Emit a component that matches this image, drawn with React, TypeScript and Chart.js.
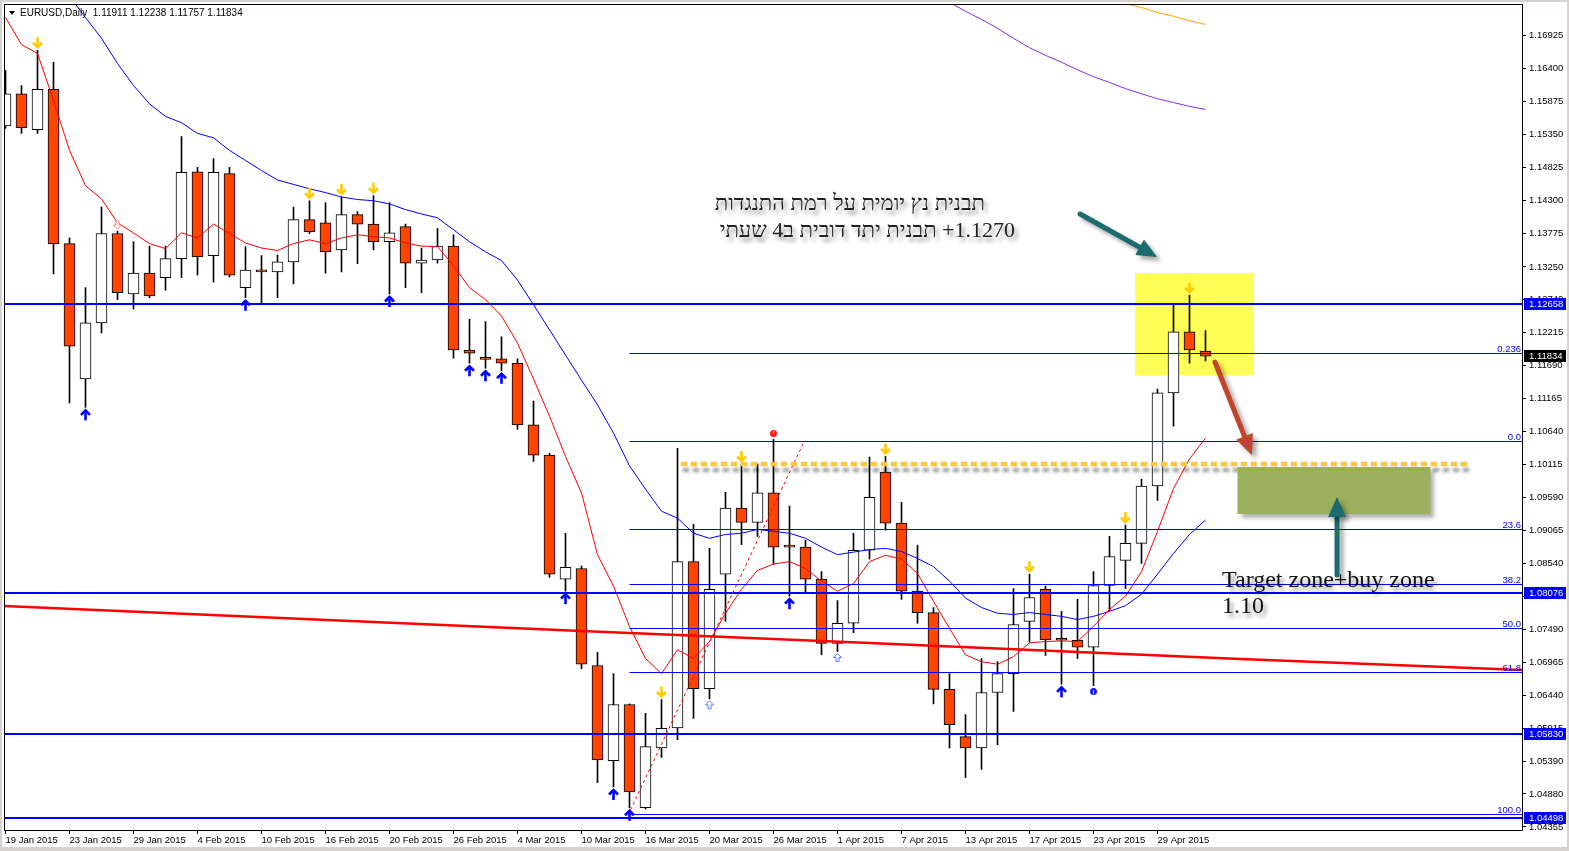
import React, { useEffect, useRef } from 'react';
import { Chart, registerables } from 'chart.js';

Chart.register(...registerables);

const W = 1569;
const H = 851;

const symbolTitle = 'EURUSD,Daily';
const lastQuote = ['1.11911', '1.12238', '1.11757', '1.11834'];

const dateLabels = ['19 Jan 2015', '23 Jan 2015', '29 Jan 2015', '4 Feb 2015', '10 Feb 2015', '16 Feb 2015', '20 Feb 2015', '26 Feb 2015', '4 Mar 2015', '10 Mar 2015', '16 Mar 2015', '20 Mar 2015', '26 Mar 2015', '1 Apr 2015', '7 Apr 2015', '13 Apr 2015', '17 Apr 2015', '23 Apr 2015', '29 Apr 2015'];
const barsPerDateLabel = 4;

const priceTicks = [1.16925, 1.164, 1.15875, 1.1535, 1.14825, 1.143, 1.13775, 1.1325, 1.1274, 1.12215, 1.1169, 1.11165, 1.1064, 1.10115, 1.0959, 1.09065, 1.0854, 1.08015, 1.0749, 1.06965, 1.0644, 1.05915, 1.0539, 1.0488, 1.04355];
const priceMin = 1.04307;
const priceMax = 1.17425;

const opens = [1.1549, 1.1600, 1.1543, 1.1607, 1.1362, 1.1147, 1.1236, 1.1378, 1.1282, 1.1315, 1.1308, 1.1338, 1.1476, 1.1343, 1.1473, 1.1292, 1.1320, 1.1317, 1.1333, 1.1400, 1.1395, 1.1352, 1.1408, 1.1393, 1.1365, 1.1389, 1.1331, 1.1336, 1.1358, 1.1193, 1.1179, 1.1179, 1.1172, 1.1074, 1.1026, 1.0829, 1.0846, 1.0692, 1.0541, 1.0630, 1.0466, 1.0561, 1.0593, 1.0857, 1.0655, 1.0837, 1.0942, 1.0919, 1.0966, 1.0881, 1.0880, 1.0829, 1.0727, 1.0759, 1.0875, 1.0999, 1.0918, 1.0810, 1.0776, 1.0654, 1.0579, 1.0561, 1.0649, 1.0679, 1.0762, 1.0813, 1.0733, 1.0732, 1.0721, 1.0819, 1.0859, 1.0886, 1.0977, 1.1125, 1.1222, 1.11911];
const highs = [1.1637, 1.1613, 1.1669, 1.1650, 1.1371, 1.1292, 1.1420, 1.1382, 1.1365, 1.1358, 1.1358, 1.1532, 1.1483, 1.1497, 1.1483, 1.1357, 1.1343, 1.1344, 1.1420, 1.1430, 1.1427, 1.1436, 1.1413, 1.1438, 1.1427, 1.1393, 1.1355, 1.1386, 1.1376, 1.1242, 1.1238, 1.1214, 1.1179, 1.1112, 1.1029, 1.0902, 1.0850, 1.0713, 1.0679, 1.0631, 1.0616, 1.0638, 1.1037, 1.0916, 1.0878, 1.0967, 1.1012, 1.1012, 1.1051, 1.0945, 1.0891, 1.0841, 1.0795, 1.0902, 1.1023, 1.1024, 1.0951, 1.0883, 1.0784, 1.0679, 1.0614, 1.0703, 1.0698, 1.0814, 1.0837, 1.0818, 1.0778, 1.0797, 1.0841, 1.0897, 1.0915, 1.0988, 1.1131, 1.1266, 1.1280, 1.12238];
const lows = [1.1545, 1.1537, 1.1537, 1.1314, 1.1109, 1.1102, 1.1220, 1.1273, 1.1258, 1.1276, 1.1288, 1.1308, 1.1312, 1.1301, 1.1309, 1.1276, 1.1268, 1.1276, 1.1298, 1.1378, 1.1315, 1.1317, 1.1330, 1.1352, 1.1282, 1.1292, 1.1284, 1.1331, 1.1180, 1.1172, 1.1164, 1.1160, 1.1067, 1.1016, 1.0832, 1.0810, 1.0687, 1.0506, 1.0499, 1.0466, 1.0464, 1.0546, 1.0574, 1.0608, 1.0639, 1.0762, 1.0884, 1.0897, 1.0853, 1.0802, 1.0806, 1.0709, 1.0714, 1.0744, 1.0861, 1.0907, 1.0797, 1.0759, 1.0631, 1.0561, 1.0514, 1.0527, 1.0566, 1.0619, 1.0729, 1.0708, 1.0662, 1.0703, 1.0660, 1.0779, 1.0814, 1.0854, 1.0954, 1.1072, 1.1172, 1.11757];
const closes = [1.1600, 1.1546, 1.1607, 1.1362, 1.1199, 1.1236, 1.1378, 1.1284, 1.1315, 1.1279, 1.1338, 1.1475, 1.1341, 1.1475, 1.1312, 1.1320, 1.1317, 1.1333, 1.1400, 1.1381, 1.1349, 1.1408, 1.1393, 1.1365, 1.1379, 1.1331, 1.1336, 1.1358, 1.1193, 1.1188, 1.1178, 1.1172, 1.1074, 1.1026, 1.0837, 1.0848, 1.0694, 1.0542, 1.0630, 1.0491, 1.0563, 1.0592, 1.0857, 1.0655, 1.0813, 1.0942, 1.0919, 1.0966, 1.0880, 1.0880, 1.0829, 1.0727, 1.0759, 1.0875, 1.0959, 1.0918, 1.0810, 1.0776, 1.0654, 1.0598, 1.0561, 1.0649, 1.0679, 1.0757, 1.0800, 1.0733, 1.0732, 1.0721, 1.0819, 1.0865, 1.0886, 1.0977, 1.1125, 1.1222, 1.1193, 1.11834];

const fastMA = [1.1721, 1.1678, 1.1664, 1.1589, 1.1510, 1.1454, 1.1433, 1.1395, 1.1379, 1.1362, 1.1354, 1.1379, 1.1371, 1.1393, 1.1378, 1.1363, 1.1355, 1.1351, 1.1362, 1.1368, 1.1362, 1.1371, 1.1376, 1.1373, 1.1371, 1.1363, 1.1358, 1.1357, 1.1327, 1.1292, 1.1273, 1.1247, 1.1204, 1.1147, 1.1088, 1.1024, 1.0966, 1.0868, 1.0818, 1.0754, 1.0703, 1.0679, 1.0717, 1.0703, 1.0730, 1.0775, 1.0813, 1.0843, 1.0853, 1.0857, 1.0846, 1.0826, 1.0810, 1.0822, 1.0857, 1.0867, 1.0861, 1.0838, 1.0794, 1.0751, 1.0709, 1.0698, 1.0694, 1.0706, 1.0728, 1.0730, 1.0731, 1.0730, 1.0754, 1.0781, 1.0802, 1.0841, 1.0905, 1.0973, 1.1020, 1.1053];
const slowMA = [1.1899, 1.1860, 1.1825, 1.1790, 1.1755, 1.1721, 1.1688, 1.1648, 1.1613, 1.1584, 1.1564, 1.1554, 1.1537, 1.1530, 1.1510, 1.1494, 1.1478, 1.1463, 1.1456, 1.1449, 1.1443, 1.1436, 1.1432, 1.1430, 1.1425, 1.1416, 1.1409, 1.1403, 1.1384, 1.1365, 1.1349, 1.1335, 1.1304, 1.1265, 1.1225, 1.1185, 1.1145, 1.1106, 1.1061, 1.1009, 1.0972, 1.0937, 1.0926, 1.0902, 1.0894, 1.0900, 1.0902, 1.0908, 1.0905, 1.0902, 1.0894, 1.0880, 1.0868, 1.0872, 1.0876, 1.0878, 1.0873, 1.0862, 1.0849, 1.0826, 1.0799, 1.0784, 1.0775, 1.0773, 1.0776, 1.0773, 1.0770, 1.0765, 1.0770, 1.0778, 1.0787, 1.0805, 1.0837, 1.0870, 1.0900, 1.0923];
const violetMAStart = 59;
const violetMA = [1.1745, 1.1731, 1.1718, 1.1704, 1.1688, 1.1673, 1.1661, 1.1650, 1.1638, 1.1627, 1.1618, 1.1608, 1.1600, 1.1592, 1.1586, 1.1580, 1.1575];
const orangeMAStart = 70;
const orangeMA = [1.1743, 1.1737, 1.1729, 1.1723, 1.1716, 1.1710];
const longTrendX = [-0.1, 36, 54, 77.2, 94.8];
const longTrendY = [1.07865, 1.07467, 1.07277, 1.07023, 1.06848];

const supportResistance = [1.12658, 1.08076, 1.0583, 1.04498];
const currentPrice = 1.11834;
const fibStartIndex = 39;
const fibZero = 1.10483;
const fibHundred = 1.0456;
const fibRatios = [-0.236, 0, 0.236, 0.382, 0.5, 0.618, 1.0];
const fibLabels = ['0.236', '0.0', '23.6', '38.2', '50.0', '61.8', '100.0'];

const sellSignals = [2, 19, 21, 23, 41, 46, 55, 64, 70, 74];
const buySignals = [5, 15, 24, 29, 30, 31, 35, 38, 39, 49, 66];
const weakSellSignals = [7];
const weakBuySignals = [44, 52];
const fractalHighs = [48];
const fractalLows = [68];

const trendLineX = [39.06, 49.87];
const trendLineY = [1.04625, 1.10453];
const dottedLevel = 1.1012;
const dottedLevelX = [42.2, 91.4];
const highlightZoneX = [70.6, 78.0];
const highlightZoneY = [1.11533, 1.13153];
const targetZoneX = [77.0, 89.06];
const targetZoneY = [1.09326, 1.10072];

const noteLine1 = 'תבנית נץ יומית על רמת התנגדות';
const noteLine2 = '1.1270+ תבנית יתד דובית ב4 שעתי';
const targetLine1 = 'Target zone+buy zone';
const targetLine2 = '1.10';

const callouts = [
  { from: [67.16, 1.1409], to: [71.97, 1.13407], color: '#1c6b6f' },
  { from: [75.59, 1.1174], to: [77.9, 1.10263], color: '#c1452b' },
  { from: [83.22, 1.08357], to: [83.22, 1.09596], color: '#1c6b6f' },
];

const AXIS_FONT = '"Liberation Sans", Arial, sans-serif';
const SERIF = '"Liberation Serif", "DejaVu Serif", "Times New Roman", serif';

function drawSignalArrow(ctx: any, x: number, tip: number, dir: number, color: string, s = 1) {
  const h = 12 * s;
  const w = 4.5 * s;
  ctx.save();
  ctx.strokeStyle = color;
  ctx.lineWidth = 2.6 * s;
  ctx.lineCap = 'butt';
  ctx.lineJoin = 'miter';
  ctx.beginPath();
  ctx.moveTo(x, tip - dir * h);
  ctx.lineTo(x, tip - dir * 2);
  ctx.stroke();
  ctx.beginPath();
  ctx.moveTo(x - w, tip - dir * (w + 2));
  ctx.lineTo(x, tip - dir * 2);
  ctx.lineTo(x + w, tip - dir * (w + 2));
  ctx.stroke();
  ctx.restore();
}

function drawHollowArrow(ctx: any, x: number, tip: number, dir: number, color: string) {
  ctx.save();
  ctx.strokeStyle = color;
  ctx.fillStyle = '#fff';
  ctx.lineWidth = 1;
  ctx.beginPath();
  ctx.moveTo(x, tip);
  ctx.lineTo(x + 4, tip - dir * 4);
  ctx.lineTo(x + 1.5, tip - dir * 4);
  ctx.lineTo(x + 1.5, tip - dir * 8);
  ctx.lineTo(x - 1.5, tip - dir * 8);
  ctx.lineTo(x - 1.5, tip - dir * 4);
  ctx.lineTo(x - 4, tip - dir * 4);
  ctx.closePath();
  ctx.fill();
  ctx.stroke();
  ctx.restore();
}

function drawBigArrow(ctx: any, x0: number, y0: number, x1: number, y1: number, color: string) {
  const ang = Math.atan2(y1 - y0, x1 - x0);
  const headLen = 20;
  const headW = 9;
  const bx = x1 - Math.cos(ang) * headLen;
  const by = y1 - Math.sin(ang) * headLen;
  ctx.save();
  ctx.shadowColor = 'rgba(0,0,0,0.35)';
  ctx.shadowBlur = 4;
  ctx.shadowOffsetX = 4;
  ctx.shadowOffsetY = 4;
  ctx.strokeStyle = color;
  ctx.fillStyle = color;
  ctx.lineWidth = 5;
  ctx.lineCap = 'round';
  ctx.beginPath();
  ctx.moveTo(x0, y0);
  ctx.lineTo(bx, by);
  ctx.stroke();
  ctx.beginPath();
  ctx.moveTo(x1, y1);
  ctx.lineTo(bx + Math.sin(ang) * headW, by - Math.cos(ang) * headW);
  ctx.lineTo(bx - Math.sin(ang) * headW, by + Math.cos(ang) * headW);
  ctx.closePath();
  ctx.fill();
  ctx.restore();
}

const decorPlugin = {
  id: 'decor',
  beforeDraw(chart: any) {
    const { ctx } = chart;
    ctx.save();
    ctx.fillStyle = '#ffffff';
    ctx.fillRect(0, 0, W, H);
    ctx.fillStyle = '#d6d3ce';
    ctx.fillRect(0, 0, W, 2);
    ctx.fillRect(0, 0, 2, H);
    ctx.fillRect(0, 847, W, H - 847);
    ctx.fillRect(W - 2, 0, 2, H);
    ctx.restore();
  },
  beforeDatasetsDraw(chart: any) {
    const { ctx, chartArea: a, scales } = chart;
    const xs = scales.x;
    const ys = scales.y;
    ctx.save();
    ctx.beginPath();
    ctx.rect(a.left, a.top, a.right - a.left, a.bottom - a.top);
    ctx.clip();
    const x0 = xs.getPixelForValue(highlightZoneX[0]);
    const x1 = xs.getPixelForValue(highlightZoneX[1]);
    const y0 = ys.getPixelForValue(highlightZoneY[1]);
    const y1 = ys.getPixelForValue(highlightZoneY[0]);
    ctx.fillStyle = '#ffff55';
    ctx.fillRect(x0, y0, x1 - x0, y1 - y0);
    ctx.restore();
  },
  afterDatasetsDraw(chart: any) {
    const { ctx, chartArea: a, scales } = chart;
    const xs = scales.x;
    const ys = scales.y;
    const X = (v: number) => xs.getPixelForValue(v);
    const Y = (v: number) => ys.getPixelForValue(v);
    ctx.save();
    ctx.beginPath();
    ctx.rect(a.left, a.top, a.right - a.left, a.bottom - a.top);
    ctx.clip();

    // fibonacci levels
    const range = fibZero - fibHundred;
    ctx.lineWidth = 1;
    ctx.strokeStyle = '#0000ff';
    ctx.font = '9.5px ' + AXIS_FONT;
    ctx.fillStyle = '#0000ff';
    ctx.textAlign = 'right';
    ctx.textBaseline = 'alphabetic';
    fibRatios.forEach((r, k) => {
      const y = Math.round(Y(fibZero - r * range)) + 0.5;
      ctx.beginPath();
      ctx.moveTo(X(fibStartIndex), y);
      ctx.lineTo(a.right, y);
      ctx.stroke();
      ctx.fillText(fibLabels[k], a.right - 1, y - 2);
    });

    // support / resistance lines
    ctx.lineWidth = 2;
    supportResistance.forEach((v) => {
      const y = Math.round(Y(v));
      ctx.beginPath();
      ctx.moveTo(a.left, y);
      ctx.lineTo(a.right, y);
      ctx.stroke();
    });

    // red dotted trend line
    ctx.save();
    ctx.strokeStyle = '#ff0000';
    ctx.lineWidth = 1;
    ctx.setLineDash([3, 3]);
    ctx.beginPath();
    ctx.moveTo(X(trendLineX[0]), Y(trendLineY[0]));
    ctx.lineTo(X(trendLineX[1]), Y(trendLineY[1]));
    ctx.stroke();
    ctx.restore();

    // yellow dotted level with shadow
    ctx.save();
    ctx.strokeStyle = '#f9c740';
    ctx.lineWidth = 4.5;
    ctx.setLineDash([6.5, 3.5]);
    ctx.shadowColor = 'rgba(0,0,0,0.35)';
    ctx.shadowBlur = 3;
    ctx.shadowOffsetX = 2;
    ctx.shadowOffsetY = 6;
    const dy = Math.round(Y(dottedLevel));
    ctx.beginPath();
    ctx.moveTo(X(dottedLevelX[0]), dy);
    ctx.lineTo(X(dottedLevelX[1]), dy);
    ctx.stroke();
    ctx.restore();

    // green target box
    ctx.save();
    ctx.shadowColor = 'rgba(0,0,0,0.3)';
    ctx.shadowBlur = 4;
    ctx.shadowOffsetX = 4;
    ctx.shadowOffsetY = 4;
    ctx.fillStyle = '#9bb05c';
    const gx0 = X(targetZoneX[0]);
    const gx1 = X(targetZoneX[1]);
    const gy0 = Y(targetZoneY[1]);
    const gy1 = Y(targetZoneY[0]);
    ctx.fillRect(gx0, gy0, gx1 - gx0, gy1 - gy0);
    ctx.restore();

    // signal arrows
    sellSignals.forEach((i) => drawSignalArrow(ctx, X(i), Y(highs[i]) - 1, 1, '#ffcc00'));
    buySignals.forEach((i) => drawSignalArrow(ctx, X(i), Y(lows[i]) + 1, -1, '#0000ff'));
    weakSellSignals.forEach((i) => drawHollowArrow(ctx, X(i), Y(highs[i]) - 2, 1, '#ff7f7f'));
    weakBuySignals.forEach((i) => drawHollowArrow(ctx, X(i), Y(lows[i]) + 2, -1, '#5b7cff'));
    fractalHighs.forEach((i) => {
      ctx.fillStyle = '#ff1a1a';
      ctx.beginPath();
      ctx.arc(X(i), Y(highs[i]) - 6, 3.5, 0, Math.PI * 2);
      ctx.fill();
      ctx.fillStyle = '#fff';
      ctx.fillRect(X(i) - 0.5, Y(highs[i]) - 8, 1, 3);
    });
    fractalLows.forEach((i) => {
      ctx.fillStyle = '#1a1aff';
      ctx.beginPath();
      ctx.arc(X(i), Y(lows[i]) + 6, 3.5, 0, Math.PI * 2);
      ctx.fill();
      ctx.fillStyle = '#fff';
      ctx.fillRect(X(i) - 0.5, Y(lows[i]) + 5, 1, 3);
    });

    // callout arrows
    callouts.forEach((c) => drawBigArrow(ctx, X(c.from[0]), Y(c.from[1]), X(c.to[0]), Y(c.to[1]), c.color));

    // annotation texts
    ctx.save();
    ctx.shadowColor = 'rgba(0,0,0,0.45)';
    ctx.shadowBlur = 4;
    ctx.shadowOffsetX = 3;
    ctx.shadowOffsetY = 4;
    ctx.fillStyle = '#222222';
    ctx.font = '22px ' + SERIF;
    ctx.direction = 'rtl';
    ctx.textAlign = 'right';
    ctx.fillText(noteLine1, 985, 210);
    ctx.fillText(noteLine2, 1015, 237);
    ctx.direction = 'ltr';
    ctx.textAlign = 'left';
    ctx.fillStyle = '#111111';
    ctx.font = '24px ' + SERIF;
    ctx.fillText(targetLine1, 1222, 587);
    ctx.fillText(targetLine2, 1222, 613);
    ctx.restore();

    ctx.restore();
  },
  afterDraw(chart: any) {
    const { ctx, chartArea: a, scales } = chart;
    const ys = scales.y;
    ctx.save();
    // frame
    ctx.strokeStyle = '#000';
    ctx.lineWidth = 1;
    ctx.strokeRect(a.left + 0.5, a.top + 0.5, a.right - a.left, a.bottom - a.top);

    // highlighted price labels
    ctx.font = '9.5px ' + AXIS_FONT;
    ctx.textBaseline = 'middle';
    ctx.textAlign = 'left';
    const boxes = supportResistance.map((v) => ({ v, bg: '#0000ff' })).concat([{ v: currentPrice, bg: '#000000' }]);
    boxes.forEach((b) => {
      const y = Math.round(ys.getPixelForValue(b.v));
      ctx.fillStyle = b.bg;
      ctx.fillRect(a.right + 2, y - 6, 42, 12);
      ctx.fillStyle = '#ffffff';
      ctx.fillText(b.v.toFixed(5), a.right + 7, y + 0.5);
    });

    // header
    ctx.fillStyle = '#000';
    ctx.beginPath();
    ctx.moveTo(9, 11);
    ctx.lineTo(15, 11);
    ctx.lineTo(12, 15);
    ctx.closePath();
    ctx.fill();
    ctx.font = '10px ' + AXIS_FONT;
    ctx.textBaseline = 'alphabetic';
    ctx.fillText(symbolTitle + '  ' + lastQuote.join(' '), 20, 16);
    ctx.restore();
  },
};

export default function App() {
  const ref = useRef<HTMLCanvasElement | null>(null);
  useEffect(() => {
    document.body.style.margin = '0';
    const canvas = ref.current;
    if (!canvas) return;
    const idx = opens.map((_, i) => i);
    const bodies = idx.map((i) => ({ x: i, y: [opens[i], closes[i]] }));
    const wicks = idx.map((i) => ({ x: i, y: [lows[i], highs[i]] }));
    const bodyColors = idx.map((i) => (closes[i] >= opens[i] ? '#ffffff' : '#ff4500'));
    const chart = new Chart(canvas, {
      type: 'bar',
      data: {
        datasets: [
          { type: 'line', data: fastMA.map((v, i) => ({ x: i, y: v })), borderColor: '#ff0000', borderWidth: 1, pointRadius: 0, order: 0 } as any,
          { type: 'line', data: slowMA.map((v, i) => ({ x: i, y: v })), borderColor: '#0000ff', borderWidth: 1, pointRadius: 0, order: 0 } as any,
          { type: 'line', data: violetMA.map((v, i) => ({ x: i + violetMAStart, y: v })), borderColor: '#8a2be2', borderWidth: 1, pointRadius: 0, order: 0 } as any,
          { type: 'line', data: orangeMA.map((v, i) => ({ x: i + orangeMAStart, y: v })), borderColor: '#ffa500', borderWidth: 1, pointRadius: 0, order: 0 } as any,
          { type: 'line', data: longTrendX.map((x, i) => ({ x, y: longTrendY[i] })), borderColor: '#ff0000', borderWidth: 2.5, pointRadius: 0, order: 0 } as any,
          {
            type: 'bar', data: bodies, backgroundColor: bodyColors, borderColor: '#000000', borderWidth: 1, borderSkipped: false,
            grouped: false, barThickness: 11, maxBarThickness: 11, categoryPercentage: 1, barPercentage: 1, minBarLength: 2, order: 1,
          } as any,
          {
            type: 'bar', data: wicks, backgroundColor: '#000000', borderWidth: 0,
            grouped: false, barThickness: 1, maxBarThickness: 1, categoryPercentage: 1, barPercentage: 1, order: 2,
          } as any,
        ],
      },
      options: {
        responsive: false,
        animation: false,
        devicePixelRatio: 1,
        events: [],
        layout: { padding: { left: 4, top: 4, right: 0, bottom: 0 } },
        plugins: { legend: { display: false }, tooltip: { enabled: false } },
        scales: {
          x: {
            type: 'linear',
            min: -1.5 / 16,
            max: (1522 - 5.5) / 16,
            offset: false,
            afterBuildTicks: (axis: any) => {
              axis.ticks = dateLabels.map((_, k) => ({ value: k * barsPerDateLabel }));
            },
            afterFit: (axis: any) => {
              axis.height = 21;
              axis.paddingLeft = 0;
              axis.paddingRight = 0;
            },
            ticks: {
              callback: (_v: any, index: number) => dateLabels[index],
              align: 'start',
              maxRotation: 0,
              minRotation: 0,
              autoSkip: false,
              padding: 1,
              color: '#000',
              font: { family: AXIS_FONT, size: 9.5 },
            },
            grid: { drawOnChartArea: false, drawTicks: true, tickLength: 4, color: '#000', offset: false },
            border: { display: true, color: '#000' },
          },
          y: {
            type: 'linear',
            position: 'right',
            min: priceMin,
            max: priceMax,
            afterBuildTicks: (axis: any) => {
              axis.ticks = priceTicks.map((v) => ({ value: v }));
            },
            afterFit: (axis: any) => {
              axis.width = 47;
              axis.paddingTop = 0;
              axis.paddingBottom = 0;
            },
            ticks: {
              callback: (v: any) => Number(v).toFixed(5),
              autoSkip: false,
              padding: 3,
              color: '#000',
              font: { family: AXIS_FONT, size: 9.5 },
            },
            grid: { drawOnChartArea: false, drawTicks: true, tickLength: 4, color: '#000' },
            border: { display: true, color: '#000' },
          },
        },
      } as any,
      plugins: [decorPlugin as any],
    });
    return () => chart.destroy();
  }, []);
  return (
    <div style={{ width: W, height: H, position: 'relative', background: '#fff' }}>
      <canvas ref={ref} width={W} height={H} style={{ display: 'block', width: W, height: H }} />
    </div>
  );
}
